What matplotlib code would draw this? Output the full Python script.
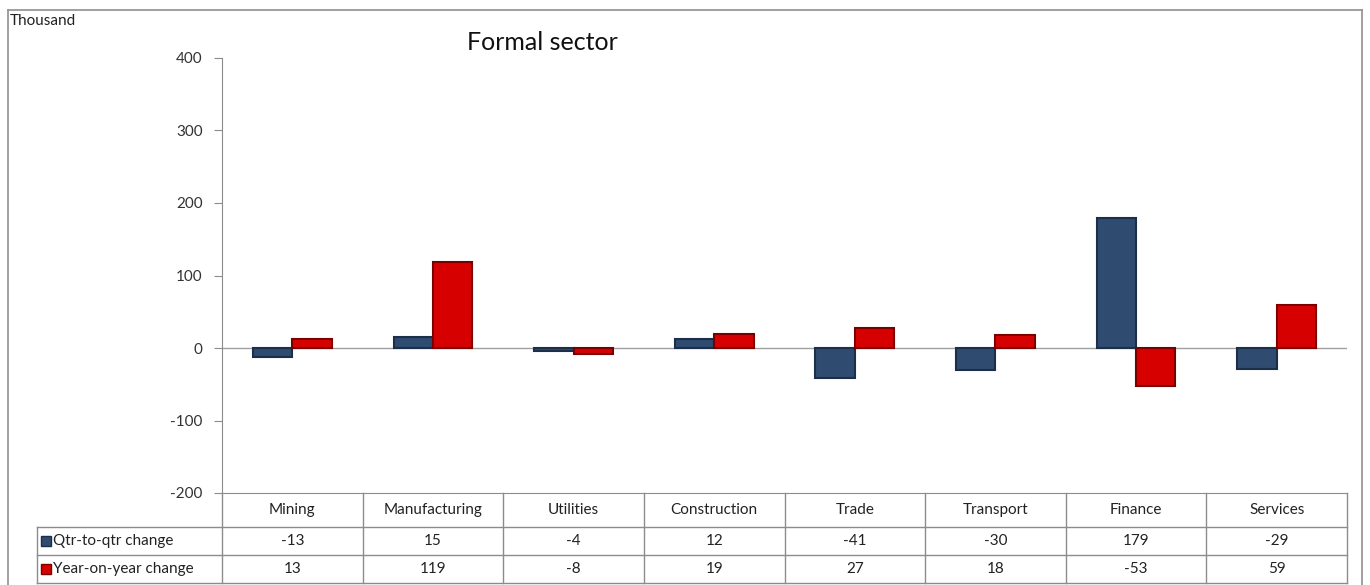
import matplotlib.pyplot as plt
import numpy as np

categories = ["Mining", "Manufacturing", "Utilities", "Construction",
              "Trade", "Transport", "Finance", "Services"]
qtr_change = [-13, 15, -4, 12, -41, -30, 179, -29]
yoy_change = [13, 119, -8, 19, 27, 18, -53, 59]
series_names = ["Qtr-to-qtr change", "Year-on-year change"]
y_ticks = [-200, -100, 0, 100, 200, 300, 400]

blue, blue_edge = "#2f4b70", "#1b2f4a"
red, red_edge = "#d60000", "#7a0000"
grid_col = "#8c8c8c"

plt.rcParams['font.family'] = ['Lato', 'DejaVu Sans']
plt.rcParams['axes.unicode_minus'] = False

W, H = 1370, 585
fig = plt.figure(figsize=(W / 100, H / 100), dpi=100)
ax = fig.add_axes([222 / W, 1 - 493 / H, (1347 - 222) / W, (493 - 58) / H])

x = np.arange(len(categories))
bw = 0.28
ax.axhline(0, color="#a0a0a0", lw=1, zorder=1)
ax.bar(x - bw / 2, qtr_change, bw, color=blue, edgecolor=blue_edge, lw=1.5, zorder=2)
ax.bar(x + bw / 2, yoy_change, bw, color=red, edgecolor=red_edge, lw=1.5, zorder=2)

ax.set_xlim(-0.5, len(categories) - 0.5)
ax.set_ylim(-200, 400)
ax.set_yticks(y_ticks)
ax.set_xticks([])
ax.tick_params(axis="y", direction="out", length=6, color=grid_col, labelsize=11,
               labelcolor="#333333", pad=8)
for s in ["top", "right"]:
    ax.spines[s].set_visible(False)
ax.spines["left"].set_color(grid_col)
ax.spines["bottom"].set_color(grid_col)

# data table below the plot
tr = ax.get_xaxis_transform()
ah = 493 - 58
y_hdr = -34 / ah
y_r1 = -62 / ah
y_r2 = -90 / ah
x_left = (37 - 222) / ((1347 - 222) / len(categories)) - 0.5
n = len(categories)
for k in range(n + 1):
    ax.plot([k - 0.5, k - 0.5], [0, y_r2], color=grid_col, lw=1, transform=tr, clip_on=False)
ax.plot([x_left, x_left], [y_hdr, y_r2], color=grid_col, lw=1, transform=tr, clip_on=False)
for yy in [y_hdr, y_r1, y_r2]:
    ax.plot([x_left, n - 0.5], [yy, yy], color=grid_col, lw=1, transform=tr, clip_on=False)

for i, c in enumerate(categories):
    ax.text(i, y_hdr / 2, c, ha="center", va="center", fontsize=11, color="#222222",
            transform=tr, clip_on=False)
    ax.text(i, (y_hdr + y_r1) / 2, str(qtr_change[i]), ha="center", va="center",
            fontsize=11, color="#222222", transform=tr, clip_on=False)
    ax.text(i, (y_r1 + y_r2) / 2, str(yoy_change[i]), ha="center", va="center",
            fontsize=11, color="#222222", transform=tr, clip_on=False)

for (yc, name, fc, ec) in [((y_hdr + y_r1) / 2, series_names[0], blue, blue_edge),
                           ((y_r1 + y_r2) / 2, series_names[1], red, red_edge)]:
    ax.plot([x_left + 0.064], [yc], marker="s", ms=7, mfc=fc, mec=ec, transform=tr, clip_on=False)
    ax.text(x_left + 0.112, yc, name, ha="left", va="center", fontsize=11, color="#222222",
            transform=tr, clip_on=False)

# outer chart frame
for (x0, y0, x1, y1) in [(8, 10, 1362, 10), (8, 10, 8, 590), (1362, 10, 1362, 590)]:
    fig.add_artist(plt.Line2D([x0 / W, x1 / W], [1 - y0 / H, 1 - y1 / H], color="#909090",
                              lw=1.2, transform=fig.transFigure))

fig.text(10 / W, 1 - 21 / H, "Thousand", fontsize=11, color="#222222", va="center")
fig.text(542 / W, 1 - 42 / H, "Formal sector", fontsize=18, color="#111111",
         ha="center", va="center")

fig.savefig("out.png", dpi=100)
